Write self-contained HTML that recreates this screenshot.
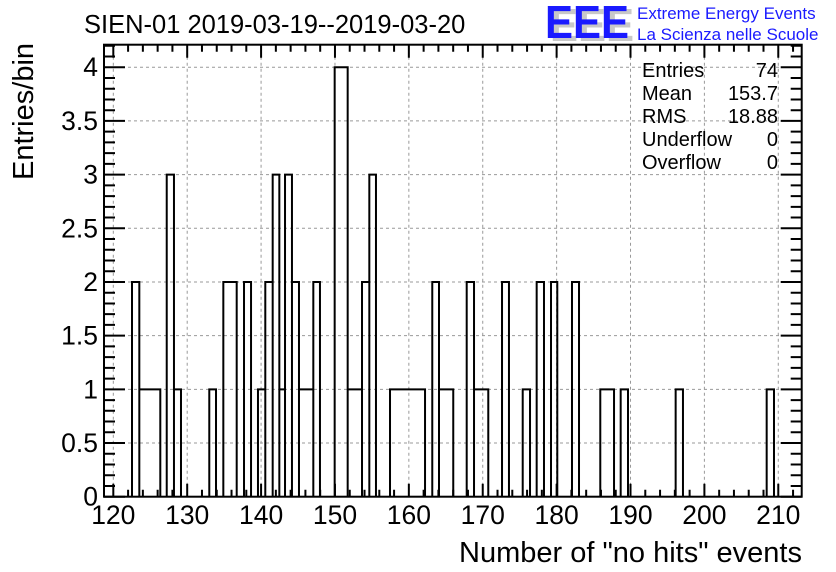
<!DOCTYPE html>
<html><head><meta charset="utf-8"><style>
html,body{margin:0;padding:0;background:#fff;}
svg{display:block;font-family:"Liberation Sans",Arial,sans-serif;}
</style></head><body>
<svg id="chart" width="836" height="572" viewBox="0 0 836 572">
<text x="84" y="33" font-size="25.5" fill="#000">SIEN-01 2019-03-19--2019-03-20</text>
<g>
<text x="550" y="41" font-size="46" font-weight="bold" fill="#c8c8c8" textLength="84" lengthAdjust="spacingAndGlyphs">EEE</text>
<text x="545" y="38" font-size="46" font-weight="bold" fill="#1a1aff" textLength="84" lengthAdjust="spacingAndGlyphs">EEE</text>
<text x="637" y="19" font-size="17" fill="#1a1aff">Extreme Energy Events</text>
<text x="637" y="40" font-size="17" fill="#1a1aff">La Scienza nelle Scuole</text>
</g>
<g id="grid"></g>
<g id="hist"></g>
<g id="axes"></g>
<g font-size="20" fill="#000">
<text x="642" y="77">Entries</text>
<text x="778" y="77" text-anchor="end">74</text>
<text x="642" y="100">Mean</text>
<text x="778" y="100" text-anchor="end">153.7</text>
<text x="642" y="123">RMS</text>
<text x="778" y="123" text-anchor="end">18.88</text>
<text x="642" y="146">Underflow</text>
<text x="778" y="146" text-anchor="end">0</text>
<text x="642" y="169">Overflow</text>
<text x="778" y="169" text-anchor="end">0</text>
</g>
<text x="802" y="562" font-size="29" text-anchor="end">Number of "no hits" events</text>
<text transform="translate(33,180) rotate(-90)" font-size="29" text-anchor="start">Entries/bin</text>
</svg>
<script>
// data: contiguous step segments of the histogram
const segLo = [122.53,123.52,127.23,128.21,132.99,134.89,137.69,139.58,140.57,141.57,142.47,143.24,144.18,145.13,147.07,149.96,151.72,153.66,154.65,157.45,163.17,164.08,167.83,168.82,172.61,175.41,177.30,179.24,182.08,185.91,188.67,196.11,208.43];
const segHi = [123.52,126.36,128.21,129.16,133.90,136.70,138.64,140.57,141.57,142.47,143.24,144.18,145.13,147.07,147.97,151.72,153.66,154.65,155.55,162.19,164.08,166.01,168.82,170.75,173.55,176.40,178.29,180.09,183.03,187.77,189.66,197.10,209.42];
const segCount = [2,1,3,1,1,2,2,1,2,3,1,3,2,1,2,4,1,2,3,1,2,1,2,1,2,1,2,2,2,1,1,1,1];
const xTicks = [120,130,140,150,160,170,180,190,200,210];
const yTicks = [0,0.5,1,1.5,2,2.5,3,3.5,4];
const yTickLabels = ["0","0.5","1","1.5","2","2.5","3","3.5","4"];

const L=104, R=801.7, T=44.7, B=496.7;
const xMin=118.74, xMax=213.17, yMin=0, yMax=4.21;
const xs = v => L + (v-xMin)/(xMax-xMin)*(R-L);
const ys = v => B - (v-yMin)/(yMax-yMin)*(B-T);
const NS='http://www.w3.org/2000/svg';
function mk(tag, parent){const e=document.createElementNS(NS,tag);parent.appendChild(e);return e;}

const grid=document.getElementById('grid');
xTicks.forEach(v=>{const l=mk('line',grid);


l.setAttribute('x1',xs(v));l.setAttribute('x2',xs(v));l.setAttribute('y1',T);l.setAttribute('y2',B);
l.setAttribute('stroke','#999');l.setAttribute('stroke-dasharray','3,3');l.setAttribute('stroke-width','1');});
yTicks.forEach(v=>{const l=mk('line',grid);


l.setAttribute('x1',L);l.setAttribute('x2',R);l.setAttribute('y1',ys(v));l.setAttribute('y2',ys(v));
l.setAttribute('stroke','#999');l.setAttribute('stroke-dasharray','3,3');l.setAttribute('stroke-width','1');});

const hist=document.getElementById('hist');
let d='';
for(let i=0;i<segLo.length;i++){
  const x0=xs(segLo[i]), x1=xs(segHi[i]), y=ys(segCount[i]);
  d+=`M${x0},${ys(0)}V${y}H${x1}V${ys(0)}`;
  const r=mk('rect',hist);
  
  
  r.setAttribute('x',x0);r.setAttribute('y',y);r.setAttribute('width',x1-x0);r.setAttribute('height',ys(0)-y);
  r.setAttribute('fill','none');
}
const p=mk('path',hist);


p.setAttribute('d',d);p.setAttribute('fill','none');p.setAttribute('stroke','#000');p.setAttribute('stroke-width','2');

const ax=document.getElementById('axes');
const fr=mk('rect',ax);


fr.setAttribute('x',L);fr.setAttribute('y',T);fr.setAttribute('width',R-L);fr.setAttribute('height',B-T);
fr.setAttribute('fill','none');fr.setAttribute('stroke','#000');fr.setAttribute('stroke-width','2');
let td='';
for(let v=118;v<=213;v+=2){ if(v<xMin) continue; const x=xs(v); const len=(v%10===0)?13:7;
  td+=`M${x},${B}V${B-len}M${x},${T}V${T+len}`;}
for(let k=0;k<=42;k++){ const v=k/10; const y=ys(v); const len=(k%5===0)?21:11;
  td+=`M${L},${y}H${L+len}M${R},${y}H${R-len}`;}
const tk=mk('path',ax);


tk.setAttribute('d',td);tk.setAttribute('stroke','#000');tk.setAttribute('stroke-width','2');
xTicks.forEach(v=>{const t=mk('text',ax);


t.setAttribute('x',xs(v));t.setAttribute('y',524);t.setAttribute('font-size','26.5');t.setAttribute('text-anchor','middle');
t.textContent=String(v);});
yTicks.forEach((v,i)=>{const t=mk('text',ax);


t.setAttribute('x',98);t.setAttribute('y',ys(v)+9);t.setAttribute('font-size','26.5');t.setAttribute('text-anchor','end');
t.textContent=yTickLabels[i];});
</script>
</body></html>
